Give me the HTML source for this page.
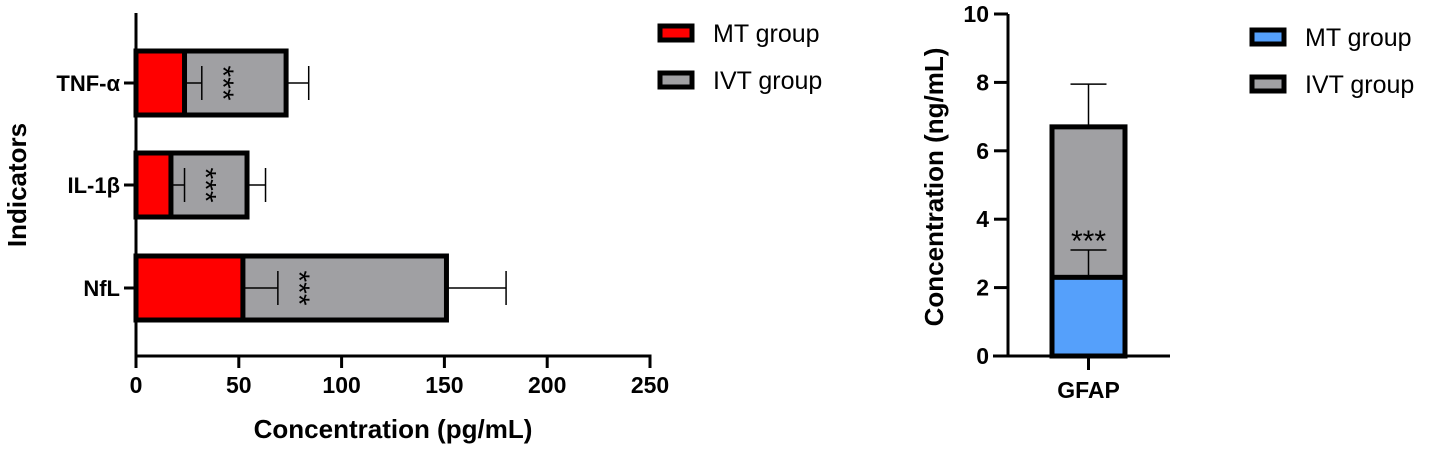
<!DOCTYPE html>
<html><head><meta charset="utf-8"><style>
body{margin:0;background:#fff;}
svg{display:block;font-family:"Liberation Sans",Arial,sans-serif;}
</style></head><body>
<svg id="c" width="1430" height="450" viewBox="0 0 1430 450"></svg>
<script>
const cats=["TNF-α","IL-1β","NfL"];
const mtVals=[23.6,17,52];
const ivtVals=[73,54,151];
const mtErr=[32,23.6,69];
const ivtErr=[84,63,180];
const xTicks=[0,50,100,150,200,250];
const gCats=["GFAP"];
const gMt=[2.3];
const gIvt=[6.7];
const gMtErr=[3.1];
const gIvtErr=[7.95];
const yTicks=[0,2,4,6,8,10];

const svg=document.getElementById('c');
const NS="http://www.w3.org/2000/svg";
function el(t,a,p){const e=document.createElementNS(NS,t);for(const k in a)e.setAttribute(k,a[k]);(p||svg).appendChild(e);return e;}

const x0=136,x1=650,yTop=13,yBot=356;
const xs=v=>x0+(v/250)*(x1-x0);
const centers=[83,185,288],bh=64;
const L=el('g',{});

cats.forEach((c,i)=>{
  const cy=centers[i];
  const g=el('g',{},L);
  
  el('rect',{x:xs(0),y:cy-bh/2,width:xs(ivtVals[i])-xs(0),height:bh,fill:'#a0a0a3',stroke:'#000','stroke-width':5},g);
  el('rect',{x:xs(0),y:cy-bh/2,width:xs(mtVals[i])-xs(0),height:bh,fill:'#f00',stroke:'#000','stroke-width':5},g);
  el('line',{x1:xs(ivtVals[i]),x2:xs(ivtErr[i]),y1:cy,y2:cy,stroke:'#000','stroke-width':1.5},g);
  el('line',{x1:xs(ivtErr[i]),x2:xs(ivtErr[i]),y1:cy-17,y2:cy+17,stroke:'#000','stroke-width':1.5},g);
  el('line',{x1:xs(mtVals[i]),x2:xs(mtErr[i]),y1:cy,y2:cy,stroke:'#000','stroke-width':1.5},g);
  el('line',{x1:xs(mtErr[i]),x2:xs(mtErr[i]),y1:cy-17,y2:cy+17,stroke:'#000','stroke-width':1.5},g);
  const st=el('text',{x:0,y:0,'font-size':30,'text-anchor':'middle',transform:`translate(${xs(mtErr[i])+11},${cy}) rotate(90)`},g);
  
  st.textContent='***';
  el('line',{x1:x0-12,x2:x0,y1:cy,y2:cy,stroke:'#000','stroke-width':3},L);
  const t=el('text',{x:x0-16,y:cy+8,'font-size':22,'font-weight':'bold','text-anchor':'end'},L);
  
  t.textContent=c;
});
el('line',{x1:x0,x2:x0,y1:yTop,y2:yBot+1.5,stroke:'#000','stroke-width':3},L);
el('line',{x1:x0-1.5,x2:x1+1.5,y1:yBot,y2:yBot,stroke:'#000','stroke-width':3},L);
xTicks.forEach(v=>{
  el('line',{x1:xs(v),x2:xs(v),y1:yBot,y2:yBot+12,stroke:'#000','stroke-width':3},L);
  const t=el('text',{x:xs(v),y:393,'font-size':23,'font-weight':'bold','text-anchor':'middle'},L);
  
  t.textContent=v;
});
let t=el('text',{x:393,y:438,'font-size':26,'font-weight':'bold','text-anchor':'middle'},L);

t.textContent='Concentration (pg/mL)';
t=el('text',{x:0,y:0,'font-size':26,'font-weight':'bold','text-anchor':'middle',transform:'translate(26,185) rotate(-90)'},L);

t.textContent='Indicators';

function legend(x,y,color,label){
  const g=el('g',{});
  
  el('rect',{x:x,y:y-7,width:32,height:14,fill:color,stroke:'#000','stroke-width':5},g);
  const tt=el('text',{x:x+53,y:y+9,'font-size':25},g);
  tt.textContent=label;
}
legend(660,33,'#f00','MT group');
legend(660,80,'#a0a0a3','IVT group');
legend(1252,37,'#55a0fb','MT group');
legend(1252,84,'#a0a0a3','IVT group');

const rx=1008,ry0=356,ry1=14;
const ys=v=>ry0-(v/10)*(ry0-ry1);
const R=el('g',{});

const bx0=1052,bx1=1125,bc=(bx0+bx1)/2;
gCats.forEach((c,i)=>{
  const g=el('g',{},R);
  
  el('rect',{x:bx0,y:ys(gIvt[i]),width:bx1-bx0,height:ys(0)-ys(gIvt[i]),fill:'#a0a0a3',stroke:'#000','stroke-width':5},g);
  el('rect',{x:bx0,y:ys(gMt[i]),width:bx1-bx0,height:ys(0)-ys(gMt[i]),fill:'#55a0fb',stroke:'#000','stroke-width':5},g);
  el('line',{x1:bc,x2:bc,y1:ys(gIvt[i]),y2:ys(gIvtErr[i]),stroke:'#000','stroke-width':1.5},g);
  el('line',{x1:bc-18,x2:bc+18,y1:ys(gIvtErr[i]),y2:ys(gIvtErr[i]),stroke:'#000','stroke-width':1.5},g);
  el('line',{x1:bc,x2:bc,y1:ys(gMt[i]),y2:ys(gMtErr[i]),stroke:'#000','stroke-width':1.5},g);
  el('line',{x1:bc-18,x2:bc+18,y1:ys(gMtErr[i]),y2:ys(gMtErr[i]),stroke:'#000','stroke-width':1.5},g);
  const st=el('text',{x:bc,y:ys(gMtErr[i])+1,'font-size':30,'text-anchor':'middle'},g);
  
  st.textContent='***';
  el('line',{x1:bc,x2:bc,y1:ry0,y2:ry0+14,stroke:'#000','stroke-width':3},R);
  const tl=el('text',{x:bc,y:398,'font-size':23,'font-weight':'bold','text-anchor':'middle'},R);
  
  tl.textContent=c;
});
el('line',{x1:rx,x2:rx,y1:ry1,y2:ry0,stroke:'#000','stroke-width':3},R);
el('line',{x1:993,x2:1170,y1:ry0,y2:ry0,stroke:'#000','stroke-width':3},R);
yTicks.forEach(v=>{
  el('line',{x1:rx-14,x2:rx,y1:ys(v),y2:ys(v),stroke:'#000','stroke-width':3},R);
  const tl=el('text',{x:rx-19,y:ys(v)+8,'font-size':23,'font-weight':'bold','text-anchor':'end'},R);
  
  tl.textContent=v;
});
t=el('text',{x:0,y:0,'font-size':26,'font-weight':'bold','text-anchor':'middle',transform:'translate(943,187) rotate(-90)'},R);

t.textContent='Concentration (ng/mL)';
</script>
</body></html>
